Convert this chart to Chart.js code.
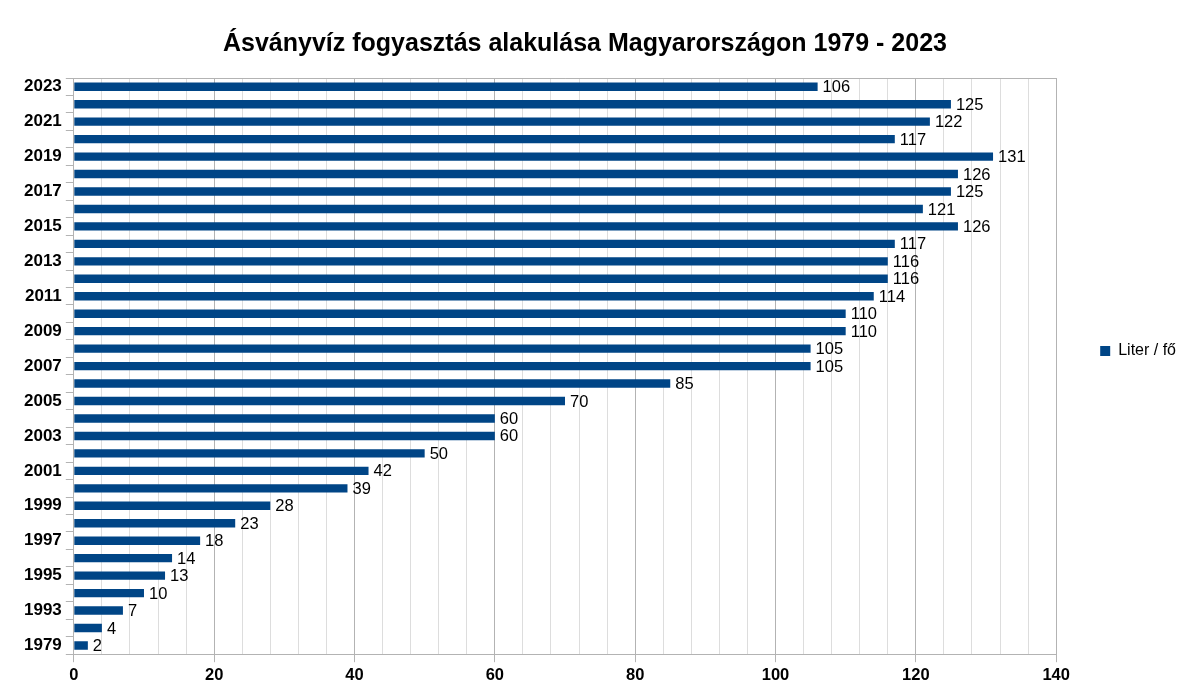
<!DOCTYPE html>
<html lang="hu">
<head>
<meta charset="utf-8">
<title>Ásványvíz fogyasztás</title>
<script src="https://cdn.jsdelivr.net/npm/chart.js@4.4.1/dist/chart.umd.min.js"></script>
<style>
  html, body { margin: 0; padding: 0; background: #fff; }
  #wrap { width: 1192px; height: 699px; }
</style>
</head>
<body>
<div id="wrap"><canvas id="chart" width="1192" height="699"></canvas></div>
<script>
// ADATOK (felülről lefelé)
const evek = ["2023", "2022", "2021", "2020", "2019", "2018", "2017", "2016", "2015", "2014",
  "2013", "2012", "2011", "2010", "2009", "2008", "2007", "2006", "2005", "2004",
  "2003", "2002", "2001", "2000", "1999", "1998", "1997", "1996", "1995", "1994",
  "1993", "1992", "1979"];
const literPerFo = [106, 125, 122, 117, 131, 126, 125, 121, 126, 117,
  116, 116, 114, 110, 110, 105, 105, 85, 70, 60,
  60, 50, 42, 39, 28, 23, 18, 14, 13, 10,
  7, 4, 2];
const sorozatNev = "Liter / fő";
const cim = "Ásványvíz fogyasztás alakulása Magyarországon 1979 - 2023";

const FONT = "'Liberation Sans', Arial, sans-serif";
const KEK = "#004586";
const FO_RACS = "#b3b3b3";
const MELLEK_RACS = "#dddddd";

// értékcímkék a sávok végén
const ertekCimkek = {
  id: "ertekCimkek",
  afterDatasetsDraw(chart) {
    const { ctx } = chart;
    const meta = chart.getDatasetMeta(0);
    ctx.save();
    ctx.font = "16.5px " + FONT;
    ctx.fillStyle = "#000";
    ctx.textBaseline = "middle";
    ctx.textAlign = "left";
    meta.data.forEach((bar, i) => {
      ctx.fillText(String(literPerFo[i]), bar.x + 5, bar.y + 1);
    });
    ctx.restore();
  }
};

// a cím kicsit balra tolva, mint az eredetin
const cimEltolas = {
  id: "cimEltolas",
  afterLayout(chart) {
    if (chart.titleBlock) chart.titleBlock.right -= 36;
  }
};

new Chart(document.getElementById("chart"), {
  type: "bar",
  data: {
    labels: evek,
    datasets: [{
      label: sorozatNev,
      data: literPerFo,
      backgroundColor: KEK,
      barPercentage: 0.48,
      categoryPercentage: 1
    }]
  },
  options: {
    indexAxis: "y",
    responsive: false,
    animation: false,
    layout: { padding: { left: 20, right: 6, top: 14, bottom: 11 } },
    plugins: {
      title: {
        display: true,
        text: cim,
        color: "#000",
        font: { family: FONT, size: 25, weight: "bold" },
        padding: { top: 15, bottom: 19 }
      },
      legend: {
        position: "right",
        labels: {
          color: "#000",
          font: { family: FONT, size: 16 },
          boxWidth: 10,
          boxHeight: 10,
          padding: 44
        }
      },
      tooltip: { enabled: false }
    },
    scales: {
      x: {
        type: "linear",
        min: 0,
        max: 140,
        border: { color: FO_RACS },
        grid: {
          color: (c) => (c.tick && c.tick.value % 20 === 0 ? FO_RACS : MELLEK_RACS),
          tickColor: (c) => (c.tick && c.tick.value % 20 === 0 ? FO_RACS : "rgba(0,0,0,0)"),
          tickLength: 8
        },
        ticks: {
          stepSize: 4,
          autoSkip: false,
          maxTicksLimit: 100,
          maxRotation: 0,
          padding: 3,
          color: "#000",
          font: { family: FONT, size: 16.5, weight: "bold" },
          callback: (v) => (v % 20 === 0 ? v : "")
        }
      },
      y: {
        border: { color: FO_RACS },
        grid: {
          offset: true,
          drawOnChartArea: true,
          color: (c) => (c.index === 0 ? FO_RACS : "rgba(0,0,0,0)"),
          tickColor: FO_RACS,
          tickLength: 8
        },
        ticks: {
          autoSkip: false,
          padding: 4,
          color: "#000",
          font: { family: FONT, size: 17, weight: "bold" },
          callback: function (v, i) { return i % 2 === 0 ? this.getLabelForValue(v) : ""; }
        }
      }
    }
  },
  plugins: [ertekCimkek, cimEltolas]
});
</script>
</body>
</html>
